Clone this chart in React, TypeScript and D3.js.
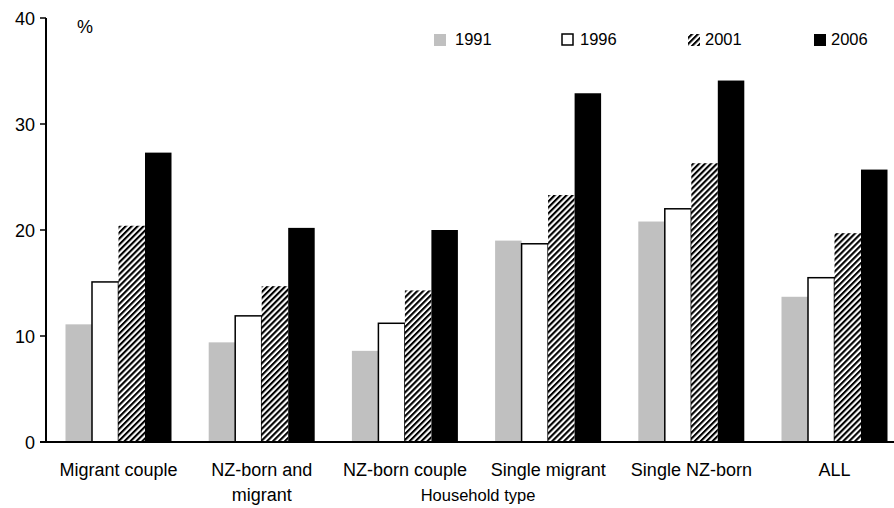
import React from "react";
import * as d3 from "d3";

const categories = ["Migrant couple", "NZ-born and\nmigrant", "NZ-born couple", "Single migrant", "Single NZ-born", "ALL"];
const seriesNames = ["1991", "1996", "2001", "2006"];
const v1991 = [11.1, 9.4, 8.6, 19.0, 20.8, 13.7];
const v1996 = [15.1, 11.9, 11.2, 18.7, 22.0, 15.5];
const v2001 = [20.4, 14.7, 14.3, 23.3, 26.3, 19.7];
const v2006 = [27.3, 20.2, 20.0, 32.9, 34.1, 25.7];
const yTicks = [0, 10, 20, 30, 40];

const W = 894;
const H = 508;
const FONT = "'Liberation Sans', Arial, sans-serif";
const FS = 16.5;
const FS_L = 18;

export default function App() {
  const series = [v1991, v1996, v2001, v2006];
  const x0 = 47;
  const step = 143.2;
  const x = d3.scaleBand<string>().domain(categories).range([x0, x0 + step * categories.length]).padding(0);
  const xi = d3.scaleBand<string>().domain(seriesNames).range([18.5, 124.5]).padding(0);
  const y = d3.scaleLinear().domain([0, 40]).range([442, 18]);
  const axisX = 46;

  const fills = ["#c0c0c0", "#ffffff", "url(#hatch)", "#000000"];
  const legendX = [434, 562, 688, 814];
  const legendTextX = [455, 580, 705, 831];

  return (
    <svg width={W} height={H} style={{ position: "absolute", left: 0, top: 0, background: "#fff" }}>
      <defs>
        <pattern id="hatch" patternUnits="userSpaceOnUse" width="4.2" height="4.2" patternTransform="rotate(45)">
          <rect width="4.2" height="4.2" fill="#fff" />
          <rect width="2.1" height="4.2" fill="#000" />
        </pattern>
      </defs>
      {categories.map((c, ci) =>
        seriesNames.map((s, si) => {
          const v = series[si][ci];
          const bx = (x(c) as number) + (xi(s) as number);
          const bw = xi.bandwidth();
          const by = y(v);
          const bh = y(0) - by;
          return (
            <rect
              key={c + s}
              x={bx}
              y={by}
              width={bw}
              height={bh}
              fill={fills[si]}
              stroke={si === 1 ? "#000" : "none"}
              strokeWidth={si === 1 ? 1.5 : 0}
            />
          );
        })
      )}
      <line x1={axisX} x2={axisX} y1={y(40)} y2={y(0)} stroke="#000" strokeWidth={2} />
      {yTicks.map((t) => (
        <g key={t}>
          <line x1={axisX - 6} x2={axisX} y1={y(t)} y2={y(t)} stroke="#000" strokeWidth={1.5} />
          <text x={35} y={y(t) + 6.5} textAnchor="end" fontFamily={FONT} fontSize={FS_L} fill="#000">
            {t}
          </text>
        </g>
      ))}
      <line x1={axisX - 6} x2={W} y1={y(0)} y2={y(0)} stroke="#000" strokeWidth={2} />
      {categories.map((c) => {
        const cx = (x(c) as number) + x.bandwidth() / 2;
        const lines = c.split("\n");
        return (
          <text key={c} x={cx} y={476} textAnchor="middle" fontFamily={FONT} fontSize={FS_L} fill="#000">
            {lines.map((l, i) => (
              <tspan key={i} x={cx} dy={i === 0 ? 0 : 25}>
                {l}
              </tspan>
            ))}
          </text>
        );
      })}
      <text x={478} y={501} textAnchor="middle" fontFamily={FONT} fontSize={FS} fill="#000">
        Household type
      </text>
      <text x={77} y={33} fontFamily={FONT} fontSize={FS_L} fill="#000">
        %
      </text>
      {seriesNames.map((s, si) => (
        <g key={s}>
          <rect
            x={legendX[si]}
            y={34}
            width={si === 1 ? 11 : 12}
            height={si === 1 ? 11 : 12}
            fill={fills[si]}
            stroke={si === 1 ? "#000" : "none"}
            strokeWidth={si === 1 ? 1.5 : 0}
          />
          <text x={legendTextX[si]} y={45} fontFamily={FONT} fontSize={FS} fill="#000">
            {s}
          </text>
        </g>
      ))}
    </svg>
  );
}
